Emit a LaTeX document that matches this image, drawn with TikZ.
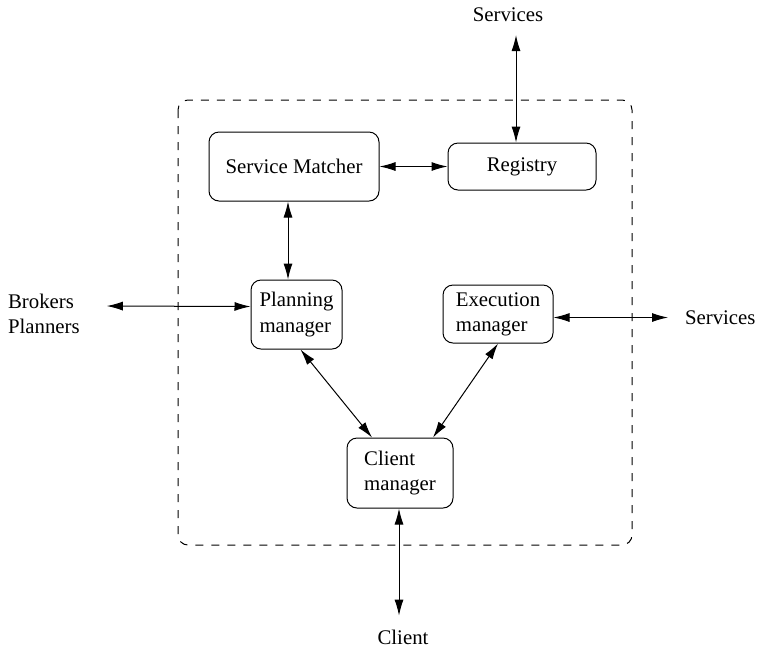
\documentclass[tikz,border=0pt]{standalone}
\usepackage{fontspec}
\setmainfont{Liberation Serif}
\usetikzlibrary{arrows.meta}
\tikzset{
  mgr/.style={draw, rounded corners=5pt, align=left, line width=0.5pt,
              font=\fontsize{10.4}{12.6}\selectfont, inner sep=2pt},
  ext/.style={align=left, font=\fontsize{10.4}{12.6}\selectfont},
  link/.style={{Latex[length=8pt,width=4.5pt]}-{Latex[length=8pt,width=4.5pt]},
               line width=0.5pt},
  agentbox/.style={draw, dash pattern=on 4pt off 4pt, rounded corners=5pt,
                   line width=0.5pt},
}

\begin{document}
\begin{tikzpicture}[x=0.5pt,y=-0.5pt]
    \useasboundingbox (0,0) rectangle (758,650);
    \draw[agentbox] (178,100) rectangle (632,545);
    \node[mgr, minimum width=85pt, minimum height=34.5pt] (matcher) at (294,166.5) {Service Matcher};
    \node[mgr, minimum width=74pt, minimum height=23.5pt] (registry) at (522,166.5) {Registry};
    \node[mgr, minimum width=45.5pt, minimum height=34.5pt] (planning) at (296.5,314.5) {Planning\\manager};
    \node[mgr, minimum width=55pt, minimum height=29pt] (execution) at (498,314) {Execution\\manager};
    \node[mgr, minimum width=53pt, minimum height=35pt] (clientmgr) at (400,473) {Client\\manager};
    \node[ext] (srvtop) at (508,15) {Services};
    \node[ext, anchor=west] (brokers) at (1,314) {Brokers\\Planners};
    \node[ext, anchor=west] (srvright) at (678,317.5) {Services};
    \node[ext] (client) at (403,637) {Client};
    \draw[link] ([xshift=4pt,yshift=-3pt]srvtop.south) -- ([xshift=4pt]srvtop.south |- registry.north);
    \draw[link] (matcher.east) -- (registry.west);
    \draw[link] ([xshift=-3pt]matcher.south) -- ([xshift=-3pt]matcher.south |- planning.north);
    \draw[link] ([xshift=10pt,yshift=4pt]brokers.east) -- ([yshift=4pt]planning.west);
    \draw[link] (execution.east |- srvright.west) -- ([xshift=-5pt]srvright.west);
    \draw[link] ([xshift=2pt]planning.south) -- ([xshift=-14pt]clientmgr.north);
    \draw[link] (execution.south) -- ([xshift=16.5pt]clientmgr.north);
    \draw[link] ([xshift=-0.5pt]clientmgr.south) -- ([xshift=-0.5pt,yshift=3.5pt]clientmgr.south |- client.north);
\end{tikzpicture}
\end{document}
